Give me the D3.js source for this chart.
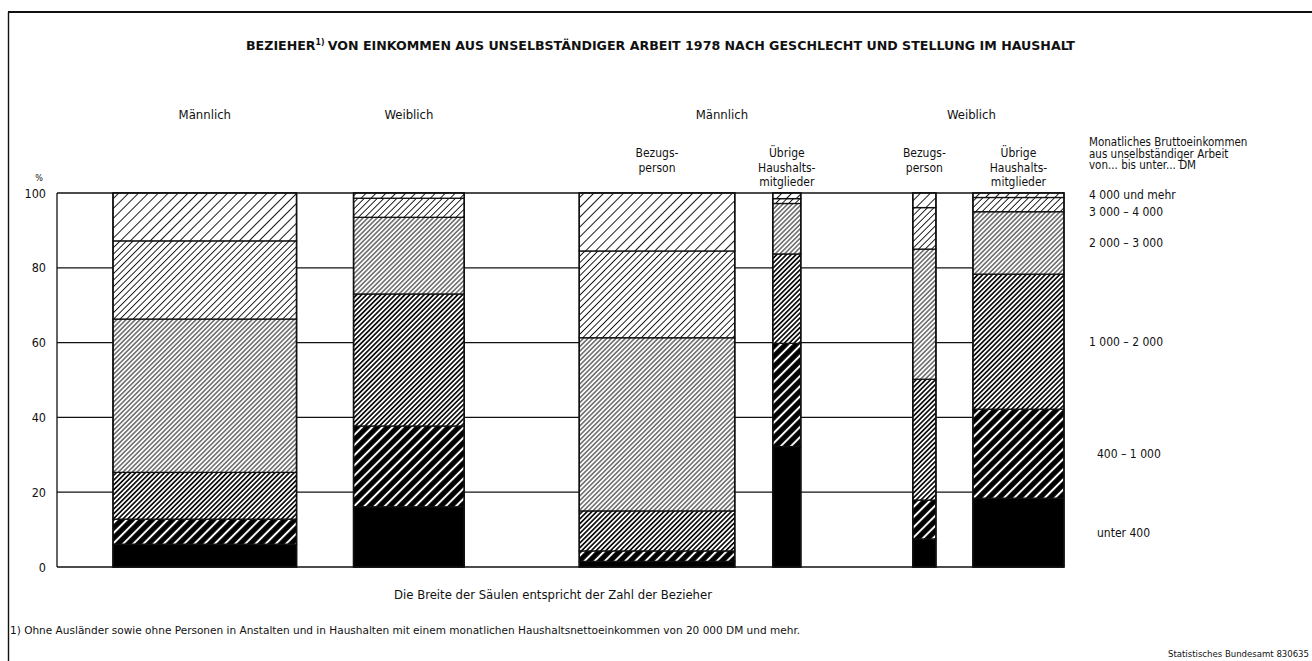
<!DOCTYPE html>
<html>
<head>
<meta charset="utf-8">
<script src="https://cdn.jsdelivr.net/npm/d3@7"></script>
<style>
  body { margin: 0; background: #fff; }
  svg text { font-family: "Liberation Sans Narrow", "DejaVu Sans Condensed", "Roboto Condensed", sans-serif; font-stretch: condensed; fill: #111; }
</style>
</head>
<body>
<svg id="chart" width="1312" height="661"></svg>
<script>
/* ---- data ---- */

// income classes, bottom to top
const incomeClasses = ["unter 400", "400 – 1 000", "1 000 – 2 000", "2 000 – 3 000", "3 000 – 4 000", "4 000 und mehr"];

// columns
const columnKeys    = ["m", "w", "mBez", "mUeb", "wBez", "wUeb"];
const groupLabels   = ["Männlich", "Weiblich", "Männlich", "Weiblich"];
const columnGroup   = [0, 1, 2, 2, 3, 3];
const subLabels     = [[], [], ["Bezugs-", "person"], ["Übrige", "Haushalts-", "mitglieder"],
                       ["Bezugs-", "person"], ["Übrige", "Haushalts-", "mitglieder"]];

// number of recipients (Mio, estimated from column widths)
const bezieher = [13.1, 7.9, 11.1, 2.0, 1.65, 6.5];

// share per income class in % (bottom to top)
const shareM    = [6.1, 6.7, 12.5, 41.0, 20.9, 12.8];
const shareW    = [16.1, 21.6, 35.3, 20.5, 5.1, 1.4];
const shareMBez = [1.5, 2.8, 10.7, 46.3, 23.2, 15.5];
const shareMUeb = [32.2, 27.6, 23.9, 13.5, 1.3, 1.5];
const shareWBez = [7.5, 10.4, 32.3, 34.8, 11.1, 3.9];
const shareWUeb = [18.4, 23.8, 36.1, 16.7, 3.8, 1.2];
const shares = [shareM, shareW, shareMBez, shareMUeb, shareWBez, shareWUeb];

const yTicks = [0, 20, 40, 60, 80, 100];

const titleText   = "VON EINKOMMEN AUS UNSELBSTÄNDIGER ARBEIT 1978 NACH GESCHLECHT UND STELLUNG IM HAUSHALT";
const legendTitle = ["Monatliches Bruttoeinkommen", "aus unselbständiger Arbeit", "von... bis unter... DM"];
const noteWidth   = "Die Breite der Säulen entspricht der Zahl der Bezieher";
const footnote    = "1) Ohne Ausländer sowie ohne Personen in Anstalten und in Haushalten mit einem monatlichen Haushaltsnettoeinkommen von 20 000 DM und mehr.";
const sourceText  = "Statistisches Bundesamt 830635";

/* ---- layout ---- */
const plotLeft = 57, plotRight = 1064, plotTop = 193, plotBottom = 567;
const gaps = [56, 57, 115, 38, 112, 37];   // white space before each column (px)
const legendX = 1089;

const svg  = d3.select("#chart");
const defs = svg.append("defs");

// hatch patterns: [perpendicular spacing, line width, background, line colour]
const hatch = [
  null,
  [7.2, 2.0, "#000", "#fff"],
  [3.4, 1.6, "#fff", "#000"],
  [3.3, 0.9, "#fff", "#000"],
  [4.6, 0.9, "#fff", "#000"],
  [7.0, 0.9, "#fff", "#000"]
];
hatch.forEach((h, i) => {
  if (!h) return;
  const p = defs.append("pattern")
    .attr("id", "hatch" + i)
    .attr("patternUnits", "userSpaceOnUse")
    .attr("width", h[0]).attr("height", 10)
    .attr("patternTransform", "rotate(45)");
  p.append("rect").attr("width", h[0]).attr("height", 10).attr("fill", h[2]);
  p.append("line").attr("x1", h[0] / 2).attr("x2", h[0] / 2).attr("y1", 0).attr("y2", 10)
    .attr("stroke", h[3]).attr("stroke-width", h[1]);
});
const fillFor = i => i === 0 ? "#000" : `url(#hatch${i})`;

// scales
const y = d3.scaleLinear().domain([0, 100]).range([plotBottom, plotTop]);
const w = d3.scaleLinear()
  .domain([0, d3.sum(bezieher)])
  .range([0, plotRight - plotLeft - d3.sum(gaps)]);

// column positions
let cursor = plotLeft;
const columns = columnKeys.map((key, i) => {
  const x0 = cursor + gaps[i];
  const x1 = x0 + w(bezieher[i]);
  cursor = x1;
  const row = { key };
  incomeClasses.forEach((c, j) => row[c] = shares[i][j]);
  return { key, x0, x1, cx: (x0 + x1) / 2, row };
});

const stack = d3.stack().keys(incomeClasses)(columns.map(c => c.row));

/* ---- frame ---- */
svg.append("line").attr("x1", 8).attr("x2", 1312).attr("y1", 12).attr("y2", 12)
  .attr("stroke", "#111").attr("stroke-width", 2.2);
svg.append("line").attr("x1", 8.5).attr("x2", 8.5).attr("y1", 12).attr("y2", 661)
  .attr("stroke", "#111").attr("stroke-width", 1.4);

/* ---- title ---- */
const title = svg.append("text").attr("x", 246).attr("y", 50)
  .attr("textLength", 829).attr("lengthAdjust", "spacingAndGlyphs")
  .style("font-size", "13px").style("font-weight", "bold");
title.append("tspan").text("BEZIEHER");
title.append("tspan").attr("dy", -5).style("font-size", "8px").text("1)");
title.append("tspan").attr("dy", 5).attr("dx", 3).text(titleText);

/* ---- grid + box ---- */
svg.append("g").selectAll("line").data(yTicks).join("line")
  .attr("x1", plotLeft).attr("x2", plotRight)
  .attr("y1", d => y(d)).attr("y2", d => y(d))
  .attr("stroke", "#111").attr("stroke-width", 1.3);
svg.append("line").attr("x1", plotLeft).attr("x2", plotLeft)
  .attr("y1", y(100)).attr("y2", y(0)).attr("stroke", "#111").attr("stroke-width", 1.3);

/* ---- y axis ---- */
const yAxis = svg.append("g")
  .attr("transform", `translate(${plotLeft},0)`)
  .call(d3.axisLeft(y).tickValues(yTicks).tickSize(0).tickPadding(11).tickFormat(d3.format("d")));
yAxis.select(".domain").remove();
yAxis.selectAll("text").style("font-size", "12.5px").attr("fill", "#111");
svg.append("text").attr("x", 39).attr("y", 181).attr("text-anchor", "middle")
  .style("font-size", "9px").text("%");

/* ---- columns ---- */
const gCols = svg.append("g");
stack.forEach((layer, j) => {
  gCols.append("g").selectAll("rect").data(layer).join("rect")
    .attr("x", (d, i) => columns[i].x0)
    .attr("width", (d, i) => columns[i].x1 - columns[i].x0)
    .attr("y", d => y(d[1]))
    .attr("height", d => y(d[0]) - y(d[1]))
    .attr("fill", fillFor(j))
    .attr("stroke", "#111").attr("stroke-width", 1.3);
});
gCols.append("g").selectAll("rect").data(columns).join("rect")
  .attr("x", d => d.x0).attr("width", d => d.x1 - d.x0)
  .attr("y", y(100)).attr("height", y(0) - y(100))
  .attr("fill", "none").attr("stroke", "#111").attr("stroke-width", 1.5);

/* ---- headers ---- */
const groupCx = groupLabels.map((g, gi) =>
  d3.mean(columns.filter((c, i) => columnGroup[i] === gi), c => c.cx));
svg.append("g").selectAll("text").data(groupLabels).join("text")
  .attr("x", (d, i) => groupCx[i]).attr("y", 119)
  .attr("text-anchor", "middle").style("font-size", "13px").text(d => d);

columns.forEach((c, i) => {
  svg.append("g").selectAll("text").data(subLabels[i]).join("text")
    .attr("x", c.cx).attr("y", (d, k) => 157 + k * 14.5)
    .attr("text-anchor", "middle").style("font-size", "12px").text(d => d);
});

/* ---- legend (labels beside the last column) ---- */
svg.append("g").selectAll("text").data(legendTitle).join("text")
  .attr("x", legendX).attr("y", (d, i) => 146 + i * 11.5)
  .style("font-size", "11.5px").text(d => d);

const last = stack.map(layer => layer[layer.length - 1]);
const labelY = last.map(d => y((d[0] + d[1]) / 2));
// spread labels top-down so they don't collide
let prev = null;
for (let j = incomeClasses.length - 1; j >= 0; j--) {
  let ly = Math.max(labelY[j], y(100) + 2);
  if (prev !== null) ly = Math.max(ly, prev + 16.5);
  labelY[j] = ly;
  prev = ly;
}
svg.append("g").selectAll("text").data(incomeClasses).join("text")
  .attr("x", (d, j) => j < 2 ? legendX + 8 : legendX)
  .attr("y", (d, j) => labelY[j] + 4)
  .style("font-size", "12px").text(d => d);

/* ---- notes ---- */
svg.append("text").attr("x", 553).attr("y", 599).attr("text-anchor", "middle")
  .attr("textLength", 318).attr("lengthAdjust", "spacingAndGlyphs")
  .style("font-size", "12px").text(noteWidth);
svg.append("text").attr("x", 10).attr("y", 634)
  .attr("textLength", 790).attr("lengthAdjust", "spacingAndGlyphs")
  .style("font-size", "10.5px").text(footnote);
svg.append("text").attr("x", 1309).attr("y", 657).attr("text-anchor", "end")
  .style("font-size", "9.5px").text(sourceText);
</script>
</body>
</html>
